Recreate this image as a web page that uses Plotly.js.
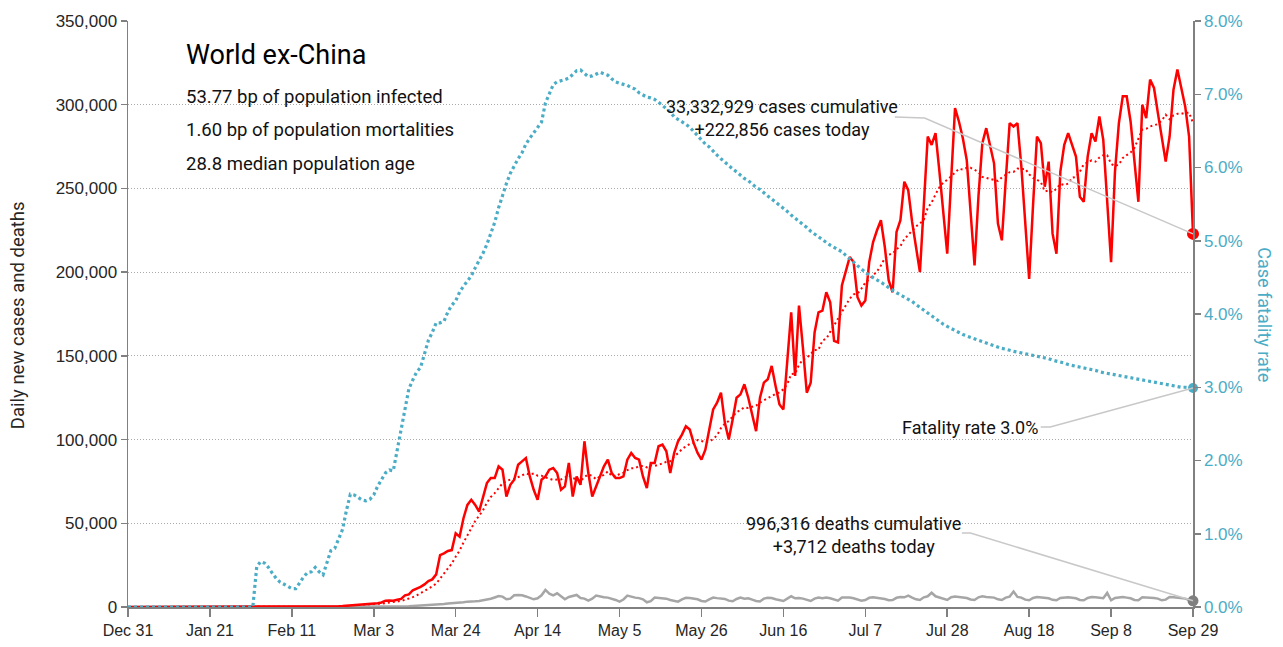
<!DOCTYPE html>
<html><head><meta charset="utf-8">
<script src="https://cdn.plot.ly/plotly-3.0.1.min.js"></script>
<style>html,body{margin:0;padding:0;background:#fff;}#chart{width:1283px;height:647px;}</style>
</head><body><div id="chart"></div>
<script>
// ---- DATA ----
const startDate = [2019, 11, 31]; // Dec 31, 2019; one value per day

const dailyCases = [
0,0,0,0,0,0,0,0,0,0,
0,0,0,1,0,1,1,1,3,2,
4,6,9,10,16,15,20,26,24,30,
35,29,32,25,33,38,42,35,27,40,
55,46,30,52,60,68,70,90,100,110,
120,200,280,380,450,530,700,950,1250,1300,
1250,1700,1850,2100,2300,2700,3800,3900,3700,4300,
4800,7000,7500,10000,11000,12000,13500,15500,16500,19500,
31000,32000,33500,34000,44000,42000,53000,61000,64000,61000,
57000,66000,74000,77000,77000,84000,82000,66000,73000,76000,
85000,87000,89000,78000,70000,64000,76000,78000,82000,83000,
80000,70000,72000,86000,66000,78000,73000,99000,80000,66000,
72000,78000,84000,88000,80000,77000,77000,78000,88000,92000,
89000,88000,78000,71000,86000,86000,96000,97000,93000,80000,
92000,99000,103000,108000,106000,98000,92000,88000,94000,106000,
118000,122000,128000,110000,100000,112000,125000,127000,133000,125000,
115000,105000,125000,134000,136000,144000,132000,121000,118000,147000,
176000,138000,180000,155000,128000,134000,164000,176000,177000,188000,
182000,159000,158000,192000,201000,209000,206000,185000,180000,183000,
206000,218000,225000,231000,215000,195000,188000,224000,231000,254000,
249000,230000,215000,200000,240000,281000,276000,283000,260000,235000,
211000,255000,298000,290000,280000,267000,235000,204000,245000,277000,
286000,275000,265000,229000,219000,255000,289000,287000,289000,263000,
230000,196000,240000,281000,277000,251000,266000,223000,211000,260000,
276000,283000,276000,269000,245000,242000,269000,283000,278000,293000,
279000,245000,206000,260000,289000,305000,305000,290000,265000,242000,
300000,292000,315000,310000,295000,280000,266000,281000,309000,321000,
310000,299000,281000,222856
];

const dailyDeaths = [
0,0,0,0,0,0,0,0,0,0,
0,0,0,0,0,0,0,0,0,0,
0,0,0,0,0,0,0,0,0,0,
0,0,1,0,0,0,0,0,0,0,
0,0,0,0,1,0,0,0,1,2,
2,3,4,5,8,10,12,14,18,20,
40,50,70,80,100,110,120,200,250,300,
350,400,450,600,700,800,900,1000,1200,1300,
1600,1800,2100,2200,2500,2600,2800,3200,3500,3400,
3600,4000,4500,4900,5700,6500,6200,4600,5000,7000,
7200,7000,6300,5600,4600,5200,7000,10200,8000,7000,
8200,6400,4600,6000,6800,7200,5400,5000,3800,5000,
6800,6200,5800,5600,5000,4200,3200,4500,6800,6000,
5600,5300,4600,2800,3500,5600,5400,5200,5000,4200,
3800,3200,4500,5500,5400,5000,4600,3600,3300,4600,
5600,5300,5000,4800,3800,3400,4800,5600,5000,5200,
4400,3600,3300,5000,5500,5400,4600,4000,3600,5000,
6400,5200,5400,5000,4200,3600,5000,5600,5200,5600,
5200,4300,3800,5600,5800,5600,5200,4600,3800,4200,
5500,5800,5600,5400,4800,4000,4200,5500,6000,5800,
6800,5600,4600,4200,5800,6400,8500,6400,5600,4600,
4200,5800,6200,6000,5800,5400,4500,4200,5800,6400,
6000,5800,5600,4600,4200,5600,6200,9200,6000,5600,
4400,4000,5400,6000,5800,5600,5200,4300,4000,5400,
5800,5800,5500,5200,4200,4000,5400,6000,5800,5600,
5200,8400,4000,5400,5600,6000,5600,5200,4200,4000,
5800,5800,5600,5400,5000,4000,4400,6000,5800,5600,
5400,5000,4200,3712
];

const fatalityRate = [
0,0,0,0,0,0,0,0,0,0,
0,0,0,0,0,0,0,0,0,0,
0,0,0,0,0,0,0,0,0,0,
0,0,0,0.0055,0.0062,0.0060,0.0054,0.0046,0.0039,0.0034,
0.0031,0.0028,0.0025,0.0025,0.0034,0.0041,0.0047,0.0048,0.0054,0.0048,
0.0044,0.0062,0.0077,0.0080,0.0094,0.0106,0.0132,0.0154,0.0153,0.0149,
0.0146,0.0145,0.0147,0.0153,0.0165,0.0174,0.0183,0.0187,0.0186,0.0214,
0.0244,0.0270,0.0298,0.0310,0.0321,0.0327,0.0345,0.0364,0.0375,0.0388,
0.0388,0.0390,0.0403,0.0412,0.0418,0.0430,0.0438,0.0445,0.0452,0.0463,
0.0472,0.0483,0.0495,0.0510,0.0525,0.0545,0.0562,0.0578,0.0592,0.0603,
0.0612,0.0620,0.0632,0.0640,0.0647,0.0654,0.0662,0.0688,0.0702,0.0713,
0.0717,0.0718,0.0720,0.0722,0.0727,0.0732,0.0733,0.0729,0.0724,0.0725,
0.0728,0.0730,0.0728,0.0726,0.0721,0.0717,0.0715,0.0714,0.0712,0.0709,
0.0707,0.0702,0.0699,0.0696,0.0695,0.0693,0.0689,0.0685,0.0681,0.0676,
0.0669,0.0666,0.0663,0.0659,0.0655,0.0649,0.0644,0.0638,0.0632,0.0628,
0.0622,0.0617,0.0612,0.0607,0.0602,0.0598,0.0594,0.0589,0.0585,0.0582,
0.0577,0.0573,0.0570,0.0565,0.0561,0.0557,0.0553,0.0549,0.0544,0.0540,
0.0535,0.0531,0.0527,0.0522,0.0518,0.0513,0.0509,0.0505,0.0502,0.0498,
0.0494,0.0491,0.0488,0.0485,0.0480,0.0476,0.0471,0.0466,0.0461,0.0457,
0.0453,0.0450,0.0447,0.0444,0.0440,0.0436,0.0432,0.0429,0.0426,0.0423,
0.0421,0.0417,0.0413,0.0409,0.0405,0.0401,0.0397,0.0393,0.0389,0.0386,
0.0383,0.0380,0.0377,0.0374,0.0372,0.0370,0.0368,0.0366,0.0364,0.0362,
0.0360,0.0358,0.0356,0.0355,0.0353,0.0352,0.0350,0.0349,0.0348,0.0347,
0.0346,0.0345,0.0343,0.0342,0.0341,0.0340,0.0339,0.0337,0.0336,0.0334,
0.0333,0.0331,0.0330,0.0329,0.0328,0.0326,0.0325,0.0324,0.0323,0.0321,
0.0320,0.0319,0.0318,0.0316,0.0315,0.0314,0.0313,0.0312,0.0311,0.0310,
0.0309,0.0308,0.0307,0.0306,0.0305,0.0304,0.0304,0.0303,0.0302,0.0301,
0.0300,0.0300,0.0299,0.0299
];

const tickDates = ['2019-12-31','2020-01-21','2020-02-11','2020-03-03','2020-03-24','2020-04-14',
  '2020-05-05','2020-05-26','2020-06-16','2020-07-07','2020-07-28','2020-08-18','2020-09-08','2020-09-29'];
const tickLabels = ['Dec 31','Jan 21','Feb 11','Mar 3','Mar 24','Apr 14','May 5','May 26',
  'Jun 16','Jul 7','Jul 28','Aug 18','Sep 8','Sep 29'];

const chartTitle = 'World ex-China';
const infoLines = ['53.77 bp of population infected', '1.60 bp of population mortalities', '28.8 median population age'];
const cumulativeCases = 33332929;
const cumulativeDeaths = 996316;

// ---- DERIVED ----
const dates = dailyCases.map((_, i) => {
  const d = new Date(Date.UTC(startDate[0], startDate[1], startDate[2]));
  d.setUTCDate(d.getUTCDate() + i);
  return d.toISOString().slice(0, 10);
});
const casesAvg7 = dailyCases.map((_, i) => {
  const s = dailyCases.slice(Math.max(0, i - 6), i + 1);
  return s.reduce((a, b) => a + b, 0) / s.length;
});
const n = dates.length - 1;
const lastDate = dates[n];
const lastCases = dailyCases[n], lastDeaths = dailyDeaths[n], lastRate = fatalityRate[n];
const fmt = v => v.toLocaleString('en-US');

// ---- STYLE ----
const COND = "Roboto, 'Liberation Sans', sans-serif";
const TICK = "'Liberation Sans', Arial, sans-serif";
const RED = '#ff0000', BLUE = '#4bacc6', GREY = '#a6a6a6', AXIS = '#808080', TXT = '#262626';

const traces = [
  {x: dates, y: fatalityRate, yaxis: 'y2', mode: 'lines', line: {color: BLUE, width: 3.2, dash: '3px,3px'}},
  {x: dates, y: casesAvg7, mode: 'lines', line: {color: RED, width: 2, dash: '2px,3px'}},
  {x: dates, y: dailyDeaths, mode: 'lines', line: {color: GREY, width: 2.5}},
  {x: dates, y: dailyCases, mode: 'lines', line: {color: RED, width: 2.5}},
  {x: [lastDate], y: [lastCases], mode: 'markers', marker: {color: RED, size: 12}, cliponaxis: false},
  {x: [lastDate], y: [lastDeaths], mode: 'markers', marker: {color: '#7f7f7f', size: 11}, cliponaxis: false},
  {x: [lastDate], y: [lastRate], yaxis: 'y2', mode: 'markers', marker: {color: BLUE, size: 10}, cliponaxis: false}
];

const ann = (text, x, y, size, opts) => Object.assign({
  text, x, y, xref: 'paper', yref: 'paper', showarrow: false,
  xanchor: 'left', yanchor: 'middle', font: {family: COND, size, color: '#111'}
}, opts || {});

const annotations = [
  ann(chartTitle, 0.053, 0.942, 27, {font: {family: COND, size: 27, color: '#000'}}),
  ann(infoLines[0], 0.053, 0.870, 18.5),
  ann(infoLines[1], 0.053, 0.814, 18.5),
  ann(infoLines[2], 0.053, 0.756, 18.5),
  ann(fmt(cumulativeCases) + ' cases cumulative<br>+' + fmt(lastCases) + ' cases today',
      0.614, 0.834, 18, {xanchor: 'center', align: 'center'}),
  ann('Fatality rate ' + (lastRate * 100).toFixed(1) + '%', 0.7906, 0.3055, 18, {xanchor: 'center'}),
  ann(fmt(cumulativeDeaths) + ' deaths cumulative<br>+' + fmt(lastDeaths) + ' deaths today',
      0.681, 0.1237, 18, {xanchor: 'center', align: 'center'}),
  ann('Daily new cases and deaths', -0.1033, 0.498, 18.5, {xanchor: 'center', textangle: -90, font: {family: COND, size: 18.5, color: TXT}}),
  ann('Case fatality rate', 1.0676, 0.498, 18, {xanchor: 'center', textangle: 90, font: {family: COND, size: 18, color: BLUE}})
];

const CONN = {color: '#c8c8c8', width: 1.5};
const shapes = [
  {type: 'path', xref: 'paper', yref: 'y', line: CONN,
   path: 'M0.720,292700 L0.748,292000 L1,' + lastCases},
  {type: 'path', xref: 'paper', yref: 'y2', line: CONN,
   path: 'M0.857,0.02457 L0.866,0.02457 L1,' + lastRate},
  {type: 'path', xref: 'paper', yref: 'y', line: CONN,
   path: 'M0.783,44200 L0.791,44200 L1,' + lastDeaths}
];

const layout = {
  width: 1283, height: 647,
  margin: {l: 128, r: 90, t: 21, b: 40},
  paper_bgcolor: '#fff', plot_bgcolor: '#fff',
  showlegend: false, hovermode: false,
  xaxis: {
    type: 'date', range: [dates[0], lastDate],
    tickmode: 'array', tickvals: tickDates, ticktext: tickLabels,
    ticks: 'outside', ticklen: 8, tickcolor: AXIS, tickwidth: 1.5,
    showline: true, linecolor: AXIS, linewidth: 1.5, showgrid: false, zeroline: false,
    tickfont: {family: TICK, size: 16, color: TXT}
  },
  yaxis: {
    range: [0, 350000], dtick: 50000, tickformat: ',',
    ticks: 'outside', ticklen: 6, tickcolor: AXIS, tickwidth: 1.5,
    showline: true, linecolor: AXIS, linewidth: 1.5,
    showgrid: true, gridcolor: '#aaaaaa', griddash: '1px,2px', gridwidth: 1, zeroline: false,
    tickfont: {family: TICK, size: 17, color: TXT}
  },
  yaxis2: {
    overlaying: 'y', side: 'right', range: [0, 0.08], dtick: 0.01, tickformat: '.1%',
    ticks: 'outside', ticklen: 6, tickcolor: AXIS, tickwidth: 1.5,
    showline: true, linecolor: AXIS, linewidth: 1.5, showgrid: false, zeroline: false,
    tickfont: {family: TICK, size: 17, color: BLUE}
  },
  annotations, shapes
};

Plotly.newPlot('chart', traces, layout, {displayModeBar: false, staticPlot: true});
</script>
</body></html>
